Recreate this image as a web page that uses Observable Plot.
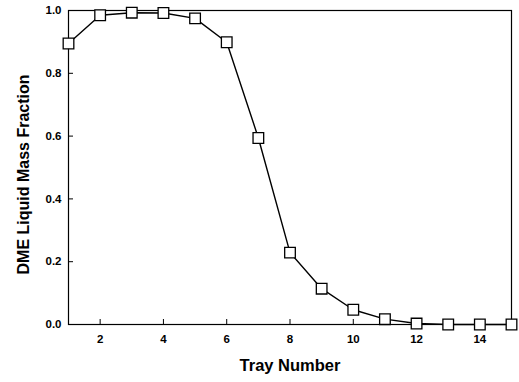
<!DOCTYPE html>
<html>
<head>
<meta charset="utf-8">
<script src="https://cdn.jsdelivr.net/npm/d3@7"></script>
<script src="https://cdn.jsdelivr.net/npm/@observablehq/plot@0.6"></script>
<style>
html, body { margin: 0; padding: 0; background: #fff; }
svg { font-family: "Liberation Sans", Arial, sans-serif; }
</style>
</head>
<body>
<div id="chart"></div>
<script>
const trays = [1, 2, 3, 4, 5, 6, 7, 8, 9, 10, 11, 12, 13, 14, 15];
const dmeFraction = [0.895, 0.985, 0.993, 0.992, 0.975, 0.899, 0.594, 0.229, 0.114, 0.047, 0.017, 0.003, 0.0, 0.0, 0.0];
const xTicks = [2, 4, 6, 8, 10, 12, 14];
const yTicks = [0, 0.2, 0.4, 0.6, 0.8, 1.0];

const data = trays.map((t, i) => ({tray: t, frac: dmeFraction[i]}));

const chart = Plot.plot({
  width: 519,
  height: 382,
  marginLeft: 68,
  marginRight: 8,
  marginTop: 10,
  marginBottom: 58,
  style: {fontFamily: "'Liberation Sans', Arial, sans-serif", fontWeight: "bold", fontSize: "11px", color: "#000"},
  x: {domain: [1, 15]},
  y: {domain: [0, 1]},
  marks: [
    Plot.frame({stroke: "#000", strokeWidth: 1.2}),
    Plot.axisX({ticks: xTicks, tickSize: -5, tickPadding: 15, tickFormat: d => d, label: null, fontSize: 11.5, fontWeight: "bold"}),
    Plot.axisY({ticks: yTicks, tickSize: -5, tickPadding: 12, tickFormat: d3.format(".1f"), label: null, fontSize: 11.5, fontWeight: "bold"}),
    Plot.line(data, {x: "tray", y: "frac", stroke: "#000", strokeWidth: 1.4}),
    Plot.dot(data, {x: "tray", y: "frac", symbol: "square", r: 6, fill: "#fff", stroke: "#000", strokeWidth: 1.3}),
    Plot.text(["Tray Number"], {frameAnchor: "bottom", dy: 46, fontSize: 16.5, fontWeight: "bold"}),
    Plot.text(["DME Liquid Mass Fraction"], {frameAnchor: "left", textAnchor: "middle", dx: -45, dy: 7, rotate: -90, fontSize: 16, fontWeight: "bold"})
  ]
});
document.getElementById("chart").appendChild(chart);
</script>
</body>
</html>
